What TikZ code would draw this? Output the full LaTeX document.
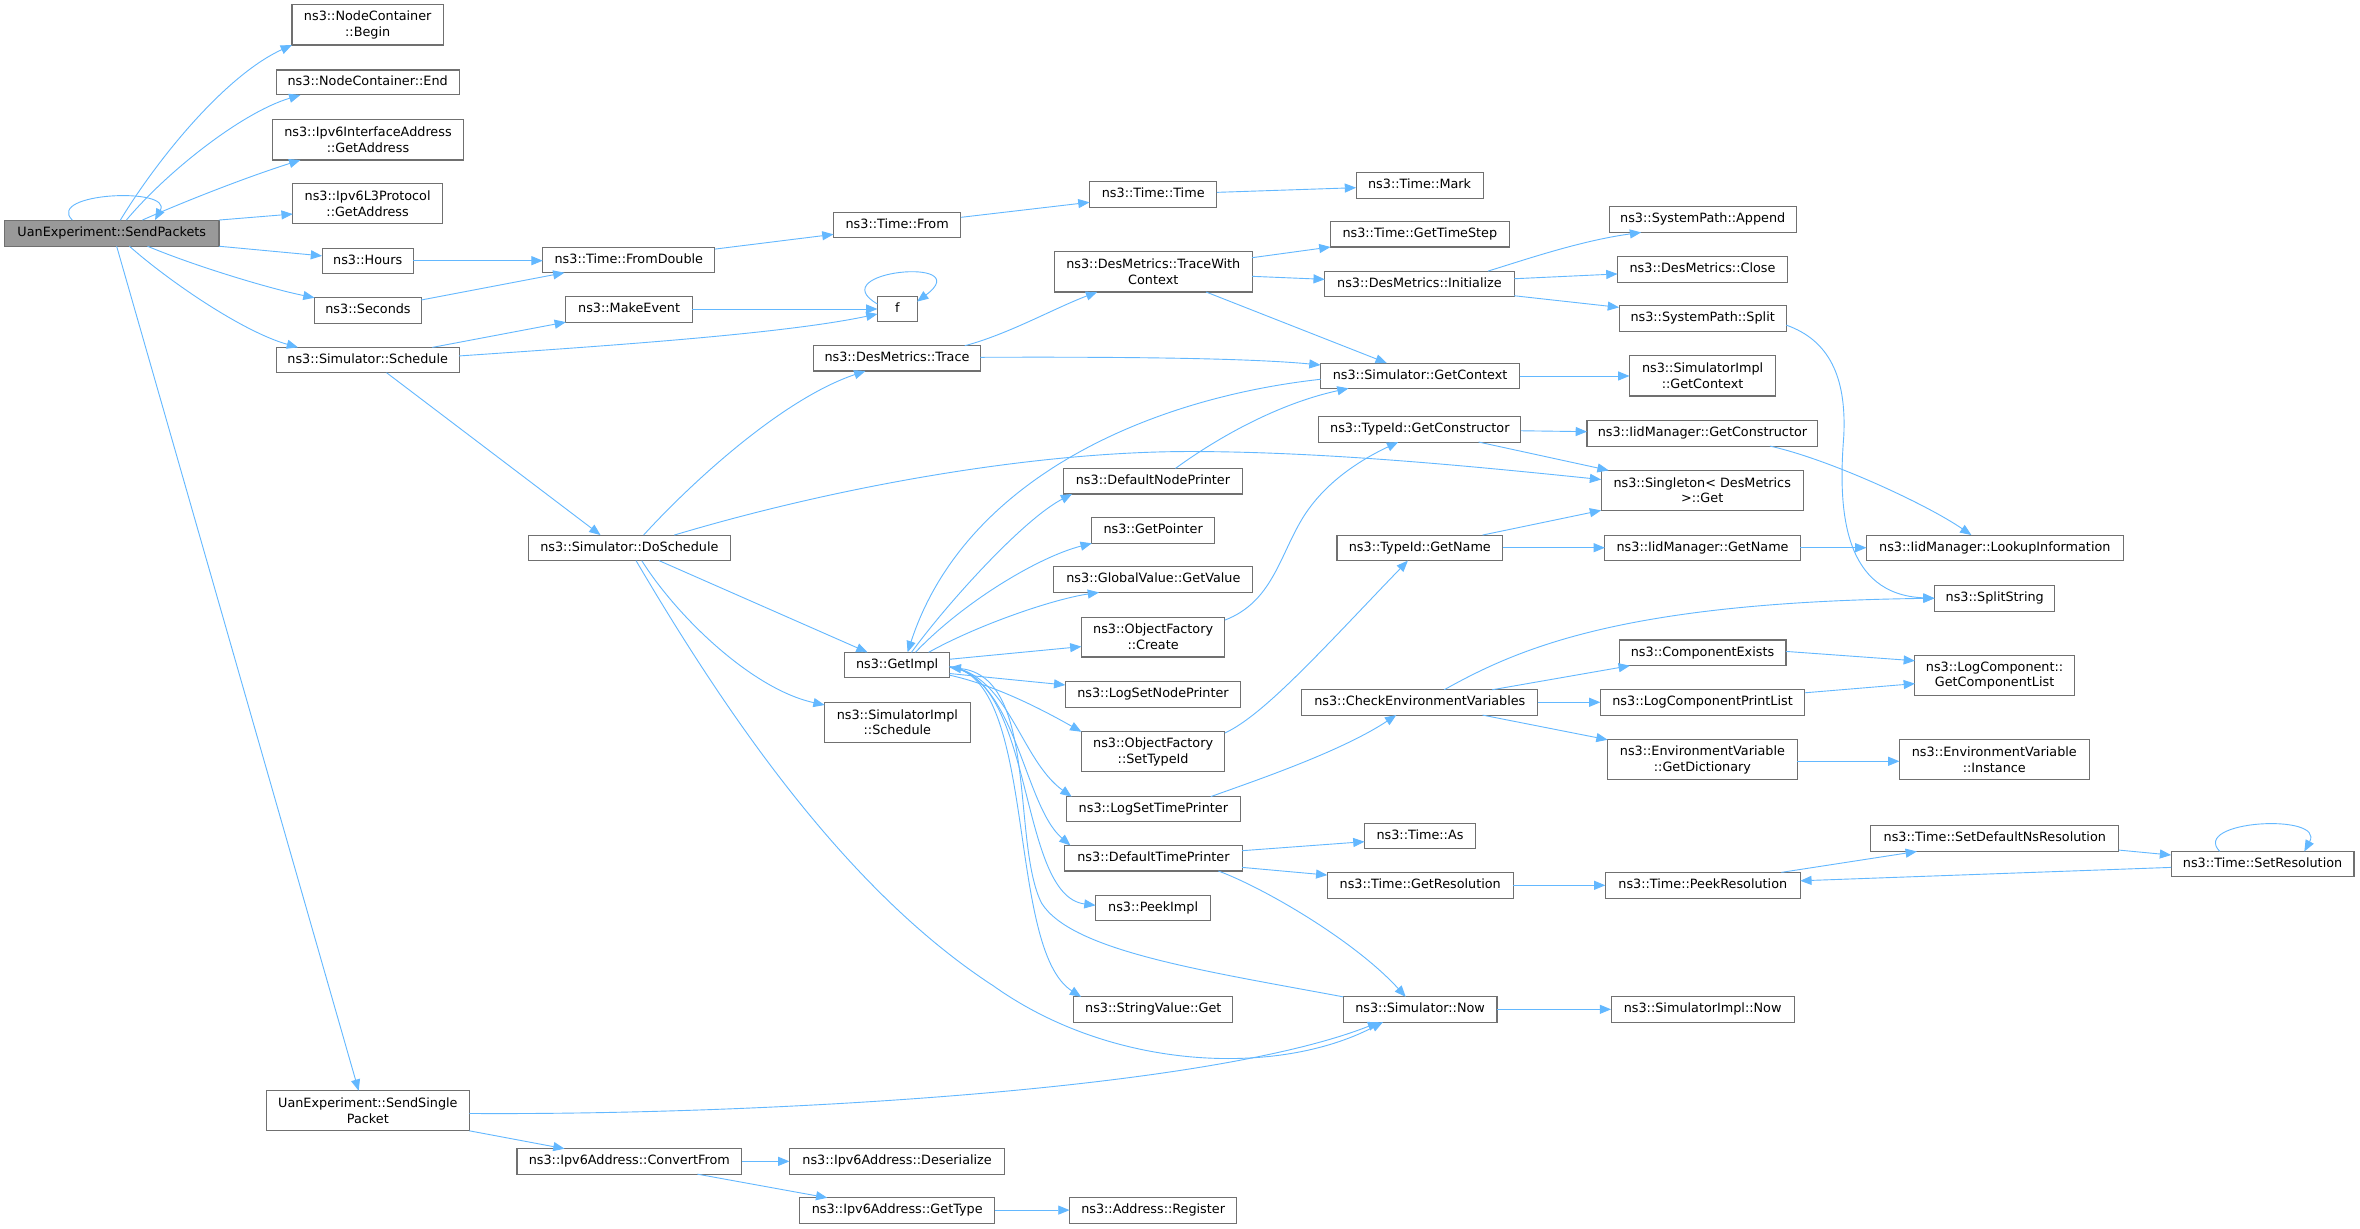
\documentclass[tikz,border=0pt]{standalone}
\usepackage{fontspec}
\setmainfont{DejaVu Sans}
\usetikzlibrary{arrows.meta}
\definecolor{edgec}{HTML}{63B8FF}
\definecolor{boxc}{HTML}{707070}
\definecolor{rootc}{HTML}{999999}
\tikzset{
  nbox/.style={draw=boxc, line width=0.7pt, fill=white, inner sep=0pt, outer sep=0pt,
    anchor=north west, align=center, font=\fontsize{8.5}{10.4}\selectfont},
  one/.style={text height=6.4pt, text depth=1.9pt},
  ed/.style={draw=edgec, line width=0.6pt, -{Triangle[length=7.5pt,width=6pt]}}
}
\newcommand\mynode[6]{\node[nbox,one,minimum width=#4pt-#2pt,minimum height=#5pt-#3pt] (#1) at (#2,#3) {#6};}
\newcommand\mytwo[6]{\node[nbox,minimum width=#4pt-#2pt,minimum height=#5pt-#3pt] (#1) at (#2,#3) {#6};}
\begin{document}
\begin{tikzpicture}[x=1pt,y=-1pt]
\fill[white] (0,0) rectangle (1568,816);
\useasboundingbox (0,0) rectangle (1568,816);
% nodes
\node[nbox,one,fill=rootc,minimum width=142.5pt,minimum height=17.4pt] (sp) at (3,146.2) {UanExperiment::SendPackets};
\mytwo{begin}{194}{3.3}{294.6}{29.9}{ns3::NodeContainer\\::Begin}
\mynode{endn}{183.6}{46.5}{305}{63.1}{ns3::NodeContainer::End}
\mytwo{ipia}{181}{79.7}{308}{106.3}{ns3::Ipv6InterfaceAddress\\::GetAddress}
\mytwo{lthree}{194.5}{121.8}{294}{148.8}{ns3::Ipv6L3Protocol\\::GetAddress}
\mynode{hours}{214}{165}{274.6}{182}{ns3::Hours}
\mynode{seconds}{209}{197.8}{280}{214.8}{ns3::Seconds}
\mynode{sched}{183.6}{230.8}{305}{247.6}{ns3::Simulator::Schedule}
\mynode{fromd}{360.6}{164.3}{475}{181.2}{ns3::Time::FromDouble}
\mynode{mkev}{376}{197.1}{460}{214}{ns3::MakeEvent}
\mynode{from}{553.8}{140.9}{638.4}{158.1}{ns3::Time::From}
\mynode{ttime}{723.9}{120.7}{808.5}{137.8}{ns3::Time::Time}
\mynode{mark}{901}{114.5}{985.4}{131.6}{ns3::Time::Mark}
\mynode{fn}{583}{196.7}{609.3}{213.7}{f}
\mynode{trace}{540.5}{229.7}{651.4}{246.5}{ns3::DesMetrics::Trace}
\mytwo{twc}{700.5}{167.2}{832}{194}{ns3::DesMetrics::TraceWith\\Context}
\mynode{gts}{884}{147.1}{1002.7}{164.1}{ns3::Time::GetTimeStep}
\mynode{init}{880.2}{180.1}{1006}{197.1}{ns3::DesMetrics::Initialize}
\mynode{append}{1069.1}{137.3}{1193.5}{154.4}{ns3::SystemPath::Append}
\mynode{close}{1074.7}{170.5}{1187.6}{187.4}{ns3::DesMetrics::Close}
\mynode{split}{1075.7}{203.1}{1186.8}{220.2}{ns3::SystemPath::Split}
\mynode{gctx}{877.4}{241.2}{1009.6}{258}{ns3::Simulator::GetContext}
\mytwo{sigctx}{1082.6}{236.3}{1179.8}{263.1}{ns3::SimulatorImpl\\::GetContext}
\mynode{dosch}{351.2}{355.5}{485.1}{372.5}{ns3::Simulator::DoSchedule}
\mynode{gimpl}{561.1}{433.4}{631}{450.3}{ns3::GetImpl}
\mytwo{sisch}{547.9}{466.7}{644.5}{493.2}{ns3::SimulatorImpl\\::Schedule}
\mynode{dnp}{706.6}{311.2}{825.5}{328.2}{ns3::DefaultNodePrinter}
\mynode{gptr}{725.4}{343.7}{806.9}{361}{ns3::GetPointer}
\mynode{gval}{700.2}{376.5}{832.4}{393.6}{ns3::GlobalValue::GetValue}
\mytwo{ofc}{718.5}{410}{813.8}{436.5}{ns3::ObjectFactory\\::Create}
\mynode{lsnp}{707.8}{452.9}{824.3}{470}{ns3::LogSetNodePrinter}
\mytwo{ofst}{718.5}{486.2}{813.8}{512.7}{ns3::ObjectFactory\\::SetTypeId}
\mynode{lstp}{708.6}{529.3}{824}{546}{ns3::LogSetTimePrinter}
\mynode{dtp}{707.4}{561.7}{825.3}{578.7}{ns3::DefaultTimePrinter}
\mynode{peek}{727.9}{594.7}{804.4}{611.7}{ns3::PeekImpl}
\mynode{sval}{713.4}{662.3}{819.1}{679.1}{ns3::StringValue::Get}
\mynode{snow}{892.4}{662.3}{994.6}{679.1}{ns3::Simulator::Now}
\mynode{sinow}{1070.4}{662.3}{1192.1}{679.1}{ns3::SimulatorImpl::Now}
\mynode{tas}{906.6}{547}{980.3}{563.9}{ns3::Time::As}
\mynode{gres}{881.9}{579.6}{1005.3}{596.7}{ns3::Time::GetResolution}
\mynode{pres}{1066.6}{579.6}{1196.1}{596.7}{ns3::Time::PeekResolution}
\mynode{sdns}{1242.9}{548.6}{1407.8}{565.7}{ns3::Time::SetDefaultNsResolution}
\mynode{sres}{1442.5}{565.7}{1564}{582.5}{ns3::Time::SetResolution}
\mynode{tgc}{876.3}{276.9}{1010.4}{293.7}{ns3::TypeId::GetConstructor}
\mynode{igc}{1054.4}{279.5}{1207.8}{296.4}{ns3::IidManager::GetConstructor}
\mytwo{sing}{1063.8}{312.5}{1198.1}{339.1}{ns3::Singleton< DesMetrics\\>::Get}
\mynode{tgn}{888.3}{355.5}{998.4}{372.5}{ns3::TypeId::GetName}
\mynode{ign}{1066.3}{355.5}{1196.1}{372.5}{ns3::IidManager::GetName}
\mynode{look}{1240.1}{355.5}{1410.6}{372.5}{ns3::IidManager::LookupInformation}
\mynode{sstr}{1285.3}{389.2}{1365.3}{406}{ns3::SplitString}
\mynode{cev}{864.9}{458.3}{1021.8}{475.1}{ns3::CheckEnvironmentVariables}
\mynode{cex}{1075.7}{425.2}{1186.6}{442.3}{ns3::ComponentExists}
\mynode{lcpl}{1063.3}{458.3}{1199.1}{475.1}{ns3::LogComponentPrintList}
\mytwo{gdict}{1068.1}{491.5}{1194.1}{518.1}{ns3::EnvironmentVariable\\::GetDictionary}
\mytwo{gcl}{1272.3}{435.7}{1378.1}{462.2}{ns3::LogComponent::\\GetComponentList}
\mytwo{inst}{1262}{491.5}{1388}{518.1}{ns3::EnvironmentVariable\\::Instance}
\mytwo{ssp}{177}{724.7}{311.8}{751.3}{UanExperiment::SendSingle\\Packet}
\mynode{conv}{343.5}{763.2}{492.7}{780.1}{ns3::Ipv6Address::ConvertFrom}
\mynode{deser}{524.5}{763.2}{667.6}{780.1}{ns3::Ipv6Address::Deserialize}
\mynode{gtype}{531.4}{795.8}{660.8}{812.8}{ns3::Ipv6Address::GetType}
\mynode{reg}{710.6}{795.8}{821.7}{812.8}{ns3::Address::Register}
% edges from SendPackets
\draw[ed] (48,0 |- sp.north) .. controls (30,128) and (115,124) .. (103,0 |- sp.north);
\draw[ed] (80,0 |- sp.north) .. controls (105,105) and (150,50) .. (begin.south west);
\draw[ed] (84,0 |- sp.north) .. controls (110,115) and (160,75) .. (199.6,0 |- endn.south);
\draw[ed] (94.6,0 |- sp.north) .. controls (120,135) and (160,119) .. (199.6,0 |- ipia.south);
\draw[ed] (sp.north east) -- (lthree.west |- 0,142.2);
\draw[ed] (sp.south east) -- (hours.west |- 0,170);
\draw[ed] (98,0 |- sp.south) .. controls (130,177) and (180,192) .. (seconds.north west);
\draw[ed] (86,0 |- sp.south) .. controls (110,185) and (160,220) .. (198,0 |- sched.north);
\draw[ed] (77.5,0 |- sp.south) -- (238.3,0 |- ssp.north);
% time chain
\draw[ed] (hours.east |- 0,173.2) -- (fromd.west |- 0,173.2);
\draw[ed] (seconds.east |- 0,199.3) -- (375,0 |- fromd.south);
\draw[ed] (fromd.east |- 0,165.5) -- (from.west |- 0,155.7);
\draw[ed] (from.east |- 0,144.4) -- (ttime.west |- 0,134.4);
\draw[ed] (ttime.east |- 0,127.8) -- (mark.west |- 0,124.7);
% schedule
\draw[ed] (287.3,0 |- sched.north) -- (mkev.south west);
\draw[ed] (sched.east |- 0,236.5) .. controls (400,230) and (520,222) .. (fn.west |- 0,208.6);
\draw[ed] (256.8,0 |- sched.south) -- (399,0 |- dosch.north);
\draw[ed] (mkev.east |- 0,205.3) -- (fn.west |- 0,205.3);
\draw[ed] (fn.west |- 0,202) .. controls (545,180) and (650,170) .. (fn.east |- 0,200.4);
% des metrics
\draw[ed] (641,0 |- trace.north) .. controls (670,222) and (700,205) .. (729,0 |- twc.south);
\draw[ed] (trace.east |- 0,237.4) .. controls (750,237) and (830,238) .. (gctx.west |- 0,242.5);
\draw[ed] (427.6,0 |- dosch.north) .. controls (460,320) and (520,265) .. (575,0 |- trace.south);
\draw[ed] (twc.east |- 0,171.2) -- (gts.south west);
\draw[ed] (twc.east |- 0,183.6) -- (init.west |- 0,185.6);
\draw[ed] (801.3,0 |- twc.south) -- (921.4,0 |- gctx.north);
\draw[ed] (988.7,0 |- init.north) .. controls (1015,172) and (1050,160) .. (1090.4,0 |- append.south);
\draw[ed] (init.east |- 0,185.2) -- (close.west |- 0,182);
\draw[ed] (init.east |- 0,196.5) -- (split.west |- 0,204.2);
\draw[ed] (gctx.east |- 0,249.8) -- (sigctx.west |- 0,249.8);
\draw[ed] (split.east |- 0,216) .. controls (1215,226) and (1227,250) .. (1225,290) .. controls (1221,340) and (1225,395) .. (sstr.west |- 0,397.5);
% doschedule
\draw[ed] (448,0 |- dosch.north) .. controls (560,322) and (690,300) .. (790,300) .. controls (880,300) and (980,310) .. (sing.west |- 0,318.6);
\draw[ed] (437.9,0 |- dosch.south) -- (576.4,0 |- gimpl.north);
\draw[ed] (426.4,0 |- dosch.south) .. controls (450,410) and (500,458) .. (sisch.west |- 0,468.4);
\draw[ed] (422.6,0 |- dosch.south) .. controls (480,470) and (560,590) .. (660,655) .. controls (740,712) and (850,715) .. (918.8,0 |- snow.south);
% send single packet
\draw[ed] (ssp.east |- 0,739.8) .. controls (500,741) and (800,725) .. (916.3,0 |- snow.south);
\draw[ed] (ssp.south east) -- (375.1,0 |- conv.north);
\draw[ed] (conv.east |- 0,771.6) -- (deser.west |- 0,771.6);
\draw[ed] (463.3,0 |- conv.south) -- (549.7,0 |- gtype.north);
\draw[ed] (gtype.east |- 0,804) -- (reg.west |- 0,804);
% getimpl
\draw[ed] (gctx.west |- 0,252) .. controls (760,265) and (640,320) .. (603,0 |- gimpl.north);
\draw[ed] (781,0 |- dnp.north) .. controls (810,290) and (850,268) .. (896,0 |- gctx.south);
\draw[ed] (605.6,0 |- gimpl.north) .. controls (630,400) and (680,345) .. (712.3,0 |- dnp.south);
\draw[ed] (608.2,0 |- gimpl.north) .. controls (640,400) and (690,370) .. (gptr.south west);
\draw[ed] (617,0 |- gimpl.north) .. controls (650,415) and (700,398) .. (730.2,0 |- gval.south);
\draw[ed] (gimpl.east |- 0,438) -- (ofc.west |- 0,429.6);
\draw[ed] (gimpl.east |- 0,447.5) -- (lsnp.west |- 0,455.1);
\draw[ed] (gimpl.east |- 0,448.6) .. controls (660,455) and (690,470) .. (ofst.north west);
\draw[ed] (gimpl.east |- 0,443) .. controls (670,448) and (678,505) .. (712,0 |- lstp.north);
\draw[ed] (gimpl.east |- 0,443) .. controls (675,450) and (680,535) .. (711.2,0 |- dtp.north);
\draw[ed] (gimpl.east |- 0,443) .. controls (688,450) and (676,595) .. (peek.west |- 0,601.5);
\draw[ed] (gimpl.east |- 0,443) .. controls (690,450) and (668,630) .. (718.3,0 |- sval.north);
\draw[ed] (snow.north west) .. controls (800,645) and (712,632) .. (692,600) .. controls (672,560) and (690,450) .. (gimpl.east |- 0,443.4);
% default time printer
\draw[ed] (dtp.east |- 0,565.2) -- (tas.west |- 0,559.2);
\draw[ed] (dtp.east |- 0,576.3) -- (gres.west |- 0,581.4);
\draw[ed] (809.5,0 |- dtp.south) .. controls (840,590) and (900,625) .. (934,0 |- snow.north);
\draw[ed] (gres.east |- 0,588.2) -- (pres.west |- 0,588.2);
\draw[ed] (snow.east |- 0,670.6) -- (sinow.west |- 0,670.6);
\draw[ed] (1183.6,0 |- pres.north) -- (1273.6,0 |- sdns.south);
\draw[ed] (sdns.east |- 0,564.8) -- (sres.west |- 0,568.1);
\draw[ed] (sres.west |- 0,576.3) -- (pres.east |- 0,585.2);
\draw[ed] (1474.8,0 |- sres.north) .. controls (1455,545) and (1545,540) .. (1531,0 |- sres.north);
% type id
\draw[ed] (ofc.east |- 0,412) .. controls (845,400) and (850,370) .. (865,345) .. controls (880,320) and (905,305) .. (929,0 |- tgc.south);
\draw[ed] (tgc.east |- 0,286.2) -- (igc.west |- 0,286.8);
\draw[ed] (982.4,0 |- tgc.south) -- (1068.8,0 |- sing.north);
\draw[ed] (985,0 |- tgn.north) -- (sing.south west);
\draw[ed] (tgn.east |- 0,363.9) -- (ign.west |- 0,363.9);
\draw[ed] (ign.east |- 0,363.9) -- (look.west |- 0,363.9);
\draw[ed] (1176,0 |- igc.south) .. controls (1215,305) and (1280,335) .. (1309.8,0 |- look.north);
\draw[ed] (ofst.east |- 0,487) .. controls (840,475) and (880,430) .. (935.4,0 |- tgn.south);
% environment
\draw[ed] (804.4,0 |- lstp.north) .. controls (830,520) and (890,500) .. (927.7,0 |- cev.south);
\draw[ed] (959.5,0 |- cev.north) .. controls (1010,430) and (1080,400) .. (sstr.west |- 0,397.5);
\draw[ed] (991.3,0 |- cev.north) -- (1082.9,0 |- cex.south);
\draw[ed] (cev.east |- 0,466.6) -- (lcpl.west |- 0,466.6);
\draw[ed] (985,0 |- cev.south) -- (gdict.north west);
\draw[ed] (cex.east |- 0,432.8) -- (gcl.west |- 0,439);
\draw[ed] (lcpl.east |- 0,460.3) -- (gcl.west |- 0,454.2);
\draw[ed] (gdict.east |- 0,505.8) -- (inst.west |- 0,505.8);
\end{tikzpicture}
\end{document}
